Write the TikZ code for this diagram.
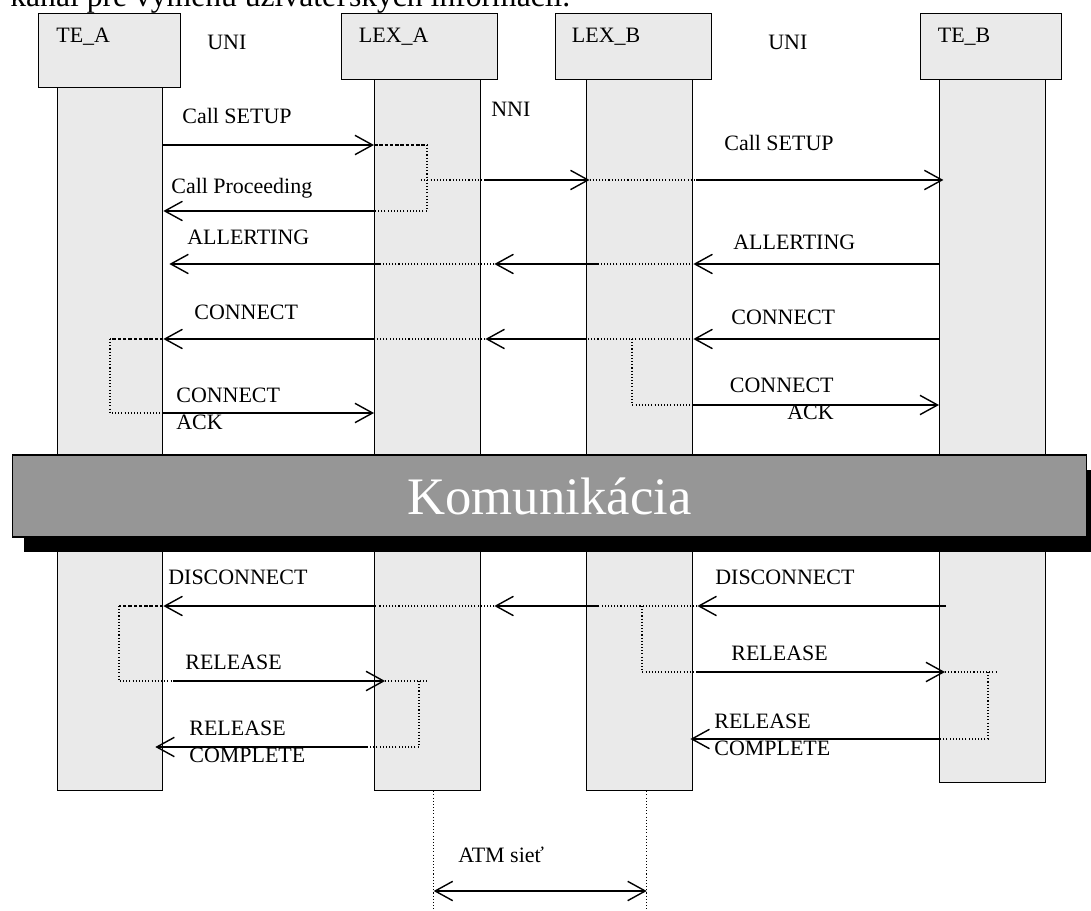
\documentclass[tikz,border=0pt]{standalone}
\usepackage{fontspec}
\setmainfont{Liberation Serif}
\usetikzlibrary{arrows.meta, positioning, shadows}
\definecolor{lanegray}{RGB}{234,234,234}
\definecolor{commgray}{RGB}{150,150,150}

\begin{document}
\begin{tikzpicture}[
  x=0.02cm, y=-0.02cm,
  lane/.style={draw, line width=0.8pt, fill=lanegray, anchor=north west, inner sep=0pt},
  lbl/.style={font=\fontsize{12.5}{15.2}\selectfont, inner sep=0pt, anchor=base west},
  mlbl/.style={lbl, anchor=north west, align=left},
  msg/.style={line width=0.8pt, -{Straight Barb[length=10pt, width=11pt]}},
  dbl/.style={line width=0.8pt, {Straight Barb[length=10pt, width=11pt]}-{Straight Barb[length=10pt, width=11pt]}},
  dots/.style={line width=0.6pt, dash pattern=on 0.6pt off 1.2pt},
  bolddots/.style={line width=1.5pt, dash pattern=on 2pt off 1pt},
  commbox/.style={draw, line width=0.6pt, fill=commgray, text=white, font=\fontsize{30}{36}\selectfont,
    minimum width=21.5cm, minimum height=1.64cm,
    drop shadow={shadow xshift=0.24cm, shadow yshift=-0.3cm, fill=black, opacity=1}}
]
  \useasboundingbox (0,0) rectangle (1091,911);

  \node[anchor=base west, inner sep=0pt, font=\fontsize{18}{22}\selectfont] (caption) at (10,6.5)
    {kanál pre výmenu užívateľských informácií.};

  \node[lane, minimum width=2.84cm, minimum height=1.48cm] (hTEA) at (38,13) {};
  \node[lane, minimum width=3.12cm, minimum height=1.32cm] (hLEXA) at (341,13) {};
  \node[lane, minimum width=3.12cm, minimum height=1.32cm] (hLEXB) at (555,13) {};
  \node[lane, minimum width=2.82cm, minimum height=1.32cm] (hTEB) at (920,13) {};
  \node[lane, minimum width=2.1cm, minimum height=14.06cm] (bTEA) at (57,87) {};
  \node[lane, minimum width=2.12cm, minimum height=14.22cm] (bLEXA) at (374,79) {};
  \node[lane, minimum width=2.12cm, minimum height=14.22cm] (bLEXB) at (586,79) {};
  \node[lane, minimum width=2.12cm, minimum height=14.06cm] (bTEB) at (939,79) {};

  \node[lbl] (tTEA) at (56,43) {TE\_A};
  \node[lbl] (tLEXA) at (358.6,43) {LEX\_A};
  \node[lbl] (tLEXB) at (571.6,43) {LEX\_B};
  \node[lbl] (tTEB) at (937.5,43) {TE\_B};
  \node[lbl] (uni1) at (207,50) {UNI};
  \node[lbl] (uni2) at (768,50) {UNI};
  \node[lbl] (nni) at (491,117) {NNI};

  % spojenie
  \draw[msg] (bTEA.east |- 0,145) -- (bLEXA.west |- 0,145);
  \coordinate (lpA) at (427,145);
  \draw[bolddots] (bLEXA.west |- lpA) -- (lpA);
  \draw[dots] (lpA) |- (bLEXA.west |- 0,211);
  \draw[msg] (bLEXA.west |- 0,211) -- (bTEA.east |- 0,211);
  \draw[dots] ([xshift=-3.4pt]lpA |- 0,180) -- ([xshift=2.3pt]bLEXA.east |- 0,180);
  \draw[msg] ([xshift=2.3pt]bLEXA.east |- 0,180) -- ([xshift=2pt]bLEXB.west |- 0,180);
  \draw[dots] ([xshift=2pt]bLEXB.west |- 0,180) -- ([xshift=1.5pt]bLEXB.east |- 0,180);
  \draw[msg] ([xshift=1.5pt]bLEXB.east |- 0,180) -- ([xshift=2.5pt]bTEB.west |- 0,180);

  \draw[msg] (bTEB.west |- 0,264) -- (bLEXB.east |- 0,264);
  \draw[dots] (bLEXB.east |- 0,264) -- ([xshift=7pt]bLEXB.west |- 0,264);
  \draw[msg] ([xshift=7pt]bLEXB.west |- 0,264) -- ([xshift=7.4pt]bLEXA.east |- 0,264);
  \draw[dots] ([xshift=7.4pt]bLEXA.east |- 0,264) -- ([xshift=4pt]bLEXA.west |- 0,264);
  \draw[msg] ([xshift=4pt]bLEXA.west |- 0,264) -- ([xshift=3.4pt]bTEA.east |- 0,264);

  \draw[msg] (bTEB.west |- 0,339) -- (bLEXB.east |- 0,339);
  \draw[dots] (bLEXB.east |- 0,339) -- (bLEXB.west |- 0,339);
  \draw[msg] (bLEXB.west |- 0,339) -- ([xshift=2.3pt]bLEXA.east |- 0,339);
  \draw[dots] ([xshift=2.3pt]bLEXA.east |- 0,339) -- (bLEXA.west |- 0,339);
  \draw[msg] (bLEXA.west |- 0,339) -- (bTEA.east |- 0,339);
  \coordinate (lpB) at (110,339);
  \draw[bolddots] (bTEA.east |- lpB) -- (lpB);
  \draw[dots] (lpB) |- (bTEA.east |- 0,413);
  \draw[msg] (bTEA.east |- 0,413) -- (bLEXA.west |- 0,413);
  \coordinate (lpC) at (632,339);
  \draw[dots] (lpC) |- (bLEXB.east |- 0,405);
  \draw[msg] (bLEXB.east |- 0,405) -- (bTEB.west |- 0,405);

  % rozpad
  \draw[msg] ([xshift=4pt]bTEB.west |- 0,606) -- ([xshift=2.3pt]bLEXB.east |- 0,606);
  \draw[dots] ([xshift=2.3pt]bLEXB.east |- 0,606) -- ([xshift=7pt]bLEXB.west |- 0,606);
  \draw[msg] ([xshift=7pt]bLEXB.west |- 0,606) -- ([xshift=7.4pt]bLEXA.east |- 0,606);
  \draw[dots] ([xshift=7.4pt]bLEXA.east |- 0,606) -- ([xshift=2pt]bLEXA.west |- 0,606);
  \draw[msg] ([xshift=1pt]bLEXA.west |- 0,606) -- (bTEA.east |- 0,606);
  \coordinate (lpD) at (119,606);
  \draw[bolddots] (bTEA.east |- lpD) -- (lpD);
  \draw[dots] (lpD) |- ([xshift=5.7pt]bTEA.east |- 0,681);
  \draw[msg] ([xshift=5.7pt]bTEA.east |- 0,681) -- ([xshift=6.3pt]bLEXA.west |- 0,681);
  \coordinate (lpE) at (419,681);
  \draw[dots] ([xshift=6.3pt]bLEXA.west |- lpE) -- ([xshift=5pt]lpE);
  \draw[dots] (lpE) |- ([xshift=-4pt]bLEXA.west |- 0,747);
  \draw[msg] ([xshift=-4pt]bLEXA.west |- 0,747) -- ([xshift=-4.6pt]bTEA.east |- 0,747);
  \coordinate (lpF) at (642,606);
  \draw[dots] (lpF) |- ([xshift=2.3pt]bLEXB.east |- 0,672);
  \draw[msg] ([xshift=2.3pt]bLEXB.east |- 0,672) -- ([xshift=3.4pt]bTEB.west |- 0,672);
  \coordinate (lpG) at (988,672);
  \draw[dots] ([xshift=3.4pt]bTEB.west |- lpG) -- ([xshift=4.6pt]lpG);
  \draw[dots] (lpG) |- (bTEB.west |- 0,739);
  \draw[msg] (bTEB.west |- 0,739) -- ([xshift=-1.7pt]bLEXB.east |- 0,739);

  \draw[dots] ([xshift=3.4pt]bLEXA.south) -- ([xshift=3.4pt]bLEXA.south |- 0,915);
  \draw[dots] ([xshift=4pt]bLEXB.south) -- ([xshift=4pt]bLEXB.south |- 0,915);
  \draw[dbl] ([xshift=3.4pt]bLEXA.south |- 0,891) -- ([xshift=4pt]bLEXB.south |- 0,891);

  \node[commbox] (komm) at (549.5,496) {Komunikácia};

  \node[lbl] (lSet1) at (182,124) {Call SETUP};
  \node[lbl] (lSet2) at (724,151) {Call SETUP};
  \node[lbl] (lProc) at (171,194) {Call Proceeding};
  \node[lbl] (lAl1) at (187,245) {ALLERTING};
  \node[lbl] (lAl2) at (733,250) {ALLERTING};
  \node[lbl] (lCo1) at (194,320) {CONNECT};
  \node[lbl] (lCo2) at (731,325) {CONNECT};
  \node[mlbl] (lAck1) at (176,387.5) {CONNECT\\ACK};
  \node[mlbl, anchor=north east, align=right] (lAck2) at (834,377.5) {CONNECT\\ACK};
  \node[lbl] (lDi1) at (168,584) {DISCONNECT};
  \node[lbl] (lDi2) at (715,584) {DISCONNECT};
  \node[lbl] (lRe1) at (185,669) {RELEASE};
  \node[lbl] (lRe2) at (731,660) {RELEASE};
  \node[mlbl] (lRc1) at (189,720.5) {RELEASE\\COMPLETE};
  \node[mlbl] (lRc2) at (714,713.5) {RELEASE\\COMPLETE};
  \node[lbl] (lAtm) at (458,862) {ATM sieť};
\end{tikzpicture}
\end{document}
